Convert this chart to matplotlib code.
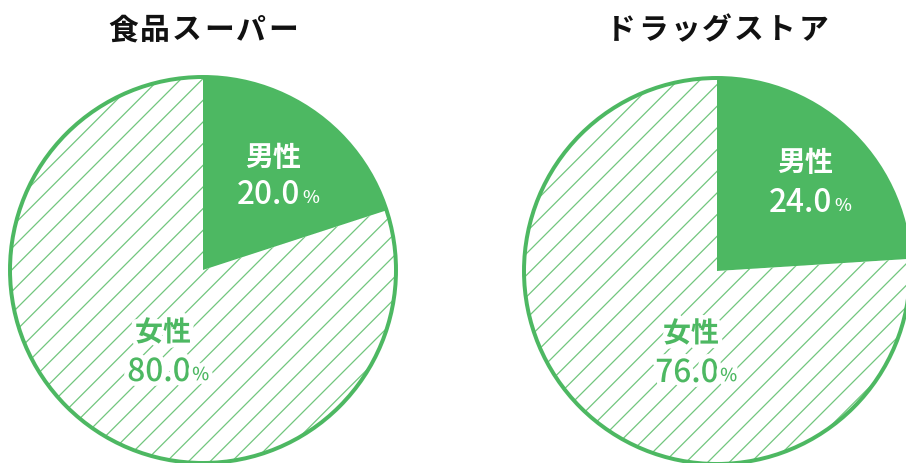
import matplotlib.pyplot as plt
from matplotlib.patches import Circle
import matplotlib.patheffects as pe

plt.rcParams['font.family'] = ['Noto Sans CJK JP', 'DejaVu Sans']
plt.rcParams['hatch.linewidth'] = 0.7

# Data
titles = ["食品スーパー", "ドラッグストア"]
labels = ["男性", "女性"]
shares = [[20.0, 80.0], [24.0, 76.0]]

GREEN = "#4db862"
HATCH = "#72c67f"
DPI = 130
W, H = 906, 463

fig = plt.figure(figsize=(W / DPI, H / DPI), dpi=DPI)
ax = fig.add_axes([0, 0, 1, 1])

# pixel-style coordinates (y grows downward), so counterclock=True draws clockwise
centers = [(203, 270), (717, 271)]
radius = 193
label_pos = [
    {"男性": (273, 158, 195), "女性": (163, 333, 372)},
    {"男性": (805, 163, 203), "女性": (691, 334, 373)},
]

for title, vals, (cx, cy), pos in zip(titles, shares, centers, label_pos):
    wedges, _ = ax.pie(vals, startangle=-90, counterclock=True,
                       center=(cx, cy), radius=radius,
                       colors=[GREEN, "white"])
    wedges[0].set_edgecolor(GREEN)
    wedges[0].set_linewidth(0.5)
    wedges[1].set_hatch("//")
    wedges[1].set_edgecolor(HATCH)
    wedges[1].set_linewidth(0)
    ax.add_patch(Circle((cx, cy), radius, fill=False, edgecolor=GREEN, lw=2.2))

    # title, one character at a time for wide letter spacing
    step = 32
    n = len(title)
    for i, ch in enumerate(title):
        ax.text(cx + (i - (n - 1) / 2) * step, 30, ch, ha="center", va="center",
                fontsize=16.5, fontweight="bold", color="#111111")

    for lab, v in zip(labels, vals):
        x, y1, y2 = pos[lab]
        if lab == "男性":
            col, fx = "white", []
        else:
            col, fx = GREEN, [pe.withStroke(linewidth=5, foreground="white")]
        ax.text(x, y1, lab, ha="center", va="center", fontsize=15.5,
                fontweight="bold", color=col, path_effects=fx)
        t = ax.text(x - 4, y2, f"{v:.1f}", ha="center", va="center", fontsize=17.5,
                    fontweight="medium", color=col, path_effects=fx)
        ax.annotate("%", xy=(1, 0.12), xycoords=t, xytext=(0.8, 0),
                    textcoords="offset points", ha="left", va="bottom",
                    fontsize=10, fontweight="medium", color=col, path_effects=fx)

ax.set_xlim(0, W)
ax.set_ylim(H, 0)
ax.set_aspect("equal")
ax.axis("off")

plt.savefig("out.png", dpi=DPI)
